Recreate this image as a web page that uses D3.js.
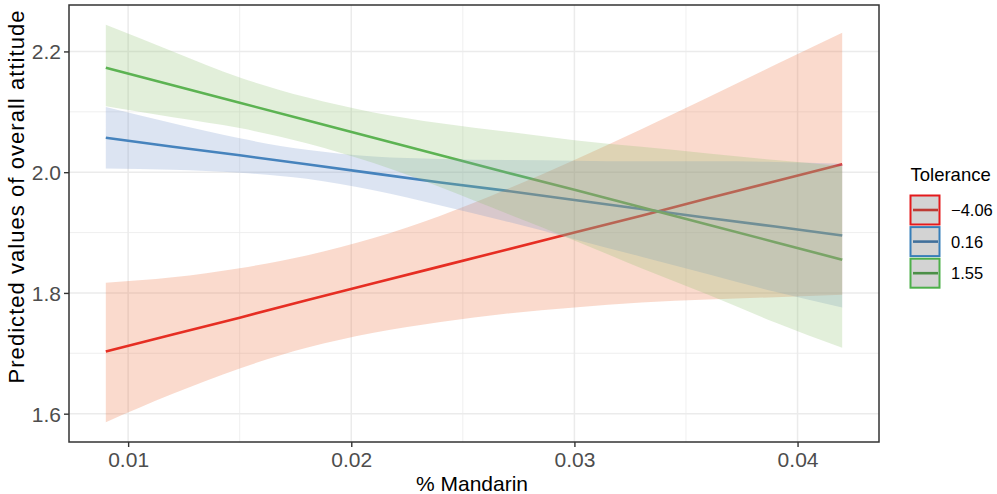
<!DOCTYPE html>
<html>
<head>
<meta charset="utf-8">
<script src="https://cdn.jsdelivr.net/npm/d3@7/dist/d3.min.js"></script>
<style>
    html, body { margin: 0; padding: 0; background: #fff; }
    svg text { font-family: "Liberation Sans", Arial, Helvetica, sans-serif; }
</style>
</head>
<body>
<svg class="main" width="997" height="494"></svg>
<script>
'use strict';

// % Mandarin values where the predictions were read
var mandarin = [0.009, 0.012, 0.015, 0.018, 0.021, 0.024, 0.027, 0.030, 0.033, 0.036, 0.039, 0.042];

var tolerance = ['\u22124.06', '0.16', '1.55'];

// Tolerance = -4.06
var fitNeg406  = [1.703, 1.731, 1.759, 1.788, 1.816, 1.844, 1.872, 1.900, 1.928, 1.957, 1.985, 2.013];
var loNeg406   = [1.586, 1.633, 1.675, 1.709, 1.734, 1.752, 1.766, 1.776, 1.784, 1.789, 1.793, 1.797];
var hiNeg406   = [1.817, 1.826, 1.841, 1.862, 1.891, 1.928, 1.972, 2.020, 2.071, 2.124, 2.178, 2.231];

// Tolerance = 0.16
var fit016 = [2.057, 2.042, 2.028, 2.013, 1.998, 1.983, 1.969, 1.954, 1.939, 1.924, 1.910, 1.895];
var lo016  = [2.006, 2.004, 1.999, 1.989, 1.970, 1.945, 1.918, 1.889, 1.860, 1.831, 1.802, 1.776];
var hi016  = [2.108, 2.081, 2.056, 2.037, 2.026, 2.022, 2.020, 2.019, 2.018, 2.018, 2.017, 2.014];

// Tolerance = 1.55
var fit155 = [2.173, 2.144, 2.115, 2.086, 2.057, 2.028, 1.999, 1.971, 1.942, 1.913, 1.884, 1.855];
var lo155  = [2.109, 2.091, 2.073, 2.048, 2.015, 1.975, 1.931, 1.887, 1.841, 1.797, 1.751, 1.709];
var hi155  = [2.244, 2.200, 2.157, 2.124, 2.099, 2.081, 2.067, 2.053, 2.042, 2.031, 2.020, 2.010];

var xTicks = [0.01, 0.02, 0.03, 0.04];
var xMinor = [0.015, 0.025, 0.035];
var yTicks = [1.6, 1.8, 2.0, 2.2];
var yMinor = [1.7, 1.9, 2.1];

var lineColors = ['#e41a1c', '#377eb8', '#4daf4a'];
var bandColors = ['#eb6b37', '#7393cb', '#8bbf6b'];
var keyLineColors = ['#bd3a33', '#41709b', '#4b8f47'];

var series = [
    {name: tolerance[0], fit: fitNeg406, lo: loNeg406, hi: hiNeg406},
    {name: tolerance[1], fit: fit016, lo: lo016, hi: hi016},
    {name: tolerance[2], fit: fit155, lo: lo155, hi: hi155}
];

var panel = {left: 69, right: 879, top: 5, bottom: 442};

function expand(ext) {
    var pad = (ext[1] - ext[0]) * 0.05;
    return [ext[0] - pad, ext[1] + pad];
}

var allY = [].concat(loNeg406, hiNeg406, lo016, hi016, lo155, hi155);

var x = d3.scaleLinear()
    .domain(expand(d3.extent(mandarin)))
    .range([panel.left, panel.right]);

var y = d3.scaleLinear()
    .domain(expand(d3.extent(allY)))
    .range([panel.bottom, panel.top]);

var svg = d3.select('svg.main');

// grid
var grid = svg.append('g').attr('class', 'grid');

grid.selectAll('.xminor')
    .data(xMinor)
    .enter()
    .append('line')
    .attr('x1', function (d) { return x(d); })
    .attr('x2', function (d) { return x(d); })
    .attr('y1', panel.top)
    .attr('y2', panel.bottom)
    .attr('stroke', '#ebebeb')
    .attr('stroke-width', 0.8);

grid.selectAll('.yminor')
    .data(yMinor)
    .enter()
    .append('line')
    .attr('y1', function (d) { return y(d); })
    .attr('y2', function (d) { return y(d); })
    .attr('x1', panel.left)
    .attr('x2', panel.right)
    .attr('stroke', '#ebebeb')
    .attr('stroke-width', 0.8);

grid.selectAll('.xmajor')
    .data(xTicks)
    .enter()
    .append('line')
    .attr('x1', function (d) { return x(d); })
    .attr('x2', function (d) { return x(d); })
    .attr('y1', panel.top)
    .attr('y2', panel.bottom)
    .attr('stroke', '#ebebeb')
    .attr('stroke-width', 1.5);

grid.selectAll('.ymajor')
    .data(yTicks)
    .enter()
    .append('line')
    .attr('y1', function (d) { return y(d); })
    .attr('y2', function (d) { return y(d); })
    .attr('x1', panel.left)
    .attr('x2', panel.right)
    .attr('stroke', '#ebebeb')
    .attr('stroke-width', 1.5);

// lines first, ribbons laid over them
var line = d3.line()
    .x(function (d) { return x(d[0]); })
    .y(function (d) { return y(d[1]); });

var area = d3.area()
    .curve(d3.curveMonotoneX)
    .x(function (d) { return x(d[0]); })
    .y0(function (d) { return y(d[1]); })
    .y1(function (d) { return y(d[2]); });

svg.append('g')
    .selectAll('path')
    .data(series)
    .enter()
    .append('path')
    .attr('d', function (s) {
        return line(mandarin.map(function (m, i) { return [m, s.fit[i]]; }));
    })
    .attr('fill', 'none')
    .attr('stroke', function (s, i) { return lineColors[i]; })
    .attr('stroke-width', 2.6);

svg.append('g')
    .selectAll('path')
    .data(series)
    .enter()
    .append('path')
    .attr('d', function (s) {
        return area(mandarin.map(function (m, i) { return [m, s.lo[i], s.hi[i]]; }));
    })
    .attr('fill', function (s, i) { return bandColors[i]; })
    .attr('fill-opacity', 0.25)
    .attr('stroke', 'none');

// panel border
svg.append('rect')
    .attr('x', panel.left)
    .attr('y', panel.top)
    .attr('width', panel.right - panel.left)
    .attr('height', panel.bottom - panel.top)
    .attr('fill', 'none')
    .attr('stroke', '#333333')
    .attr('stroke-width', 1.5);

// axes
var xAxis = svg.append('g')
    .attr('transform', 'translate(0,' + panel.bottom + ')')
    .call(d3.axisBottom(x).tickValues(xTicks).tickSize(5).tickPadding(6).tickFormat(d3.format('.2f')));

var yAxis = svg.append('g')
    .attr('transform', 'translate(' + panel.left + ',0)')
    .call(d3.axisLeft(y).tickValues(yTicks).tickSize(5).tickPadding(4).tickFormat(d3.format('.1f')));

[xAxis, yAxis].forEach(function (ax) {
    ax.select('.domain').remove();
    ax.selectAll('.tick line').attr('stroke', '#333333').attr('stroke-width', 1.4);
    ax.selectAll('.tick text')
        .attr('fill', '#4d4d4d')
        .style('font-size', '21px');
});

xAxis.selectAll('.tick text').attr('dy', null).attr('y', 25);
yAxis.selectAll('.tick text').attr('dy', '0.36em').attr('x', -8);

svg.append('text')
    .attr('x', (panel.left + panel.right) / 2 - 2)
    .attr('y', 491)
    .attr('text-anchor', 'middle')
    .style('font-size', '21px')
    .attr('fill', '#000')
    .text('% Mandarin');

svg.append('text')
    .attr('transform', 'translate(24,197) rotate(-90)')
    .attr('text-anchor', 'middle')
    .style('font-size', '22px')
    .attr('textLength', 373)
    .attr('lengthAdjust', 'spacing')
    .attr('fill', '#000')
    .text('Predicted values of overall attitude');

// legend
var legend = svg.append('g').attr('transform', 'translate(910,0)');

legend.append('text')
    .attr('x', 0.5)
    .attr('y', 180.5)
    .style('font-size', '18.5px')
    .attr('fill', '#000')
    .text('Tolerance');

var keys = legend.selectAll('.key')
    .data(series)
    .enter()
    .append('g')
    .attr('class', 'key')
    .attr('transform', function (d, i) {
        return 'translate(0,' + (195 + i * 31.6) + ')';
    });

keys.append('rect')
    .attr('x', 0.5)
    .attr('y', 0.5)
    .attr('width', 29)
    .attr('height', 29)
    .attr('fill', '#d3d3d3');

keys.append('line')
    .attr('x1', 3)
    .attr('x2', 28)
    .attr('y1', 15)
    .attr('y2', 15)
    .attr('stroke', function (d, i) { return keyLineColors[i]; })
    .attr('stroke-width', 2.6);

keys.append('rect')
    .attr('x', 0.5)
    .attr('y', 0.5)
    .attr('width', 29)
    .attr('height', 29)
    .attr('fill', 'none')
    .attr('stroke', function (d, i) { return lineColors[i]; })
    .attr('stroke-width', 2);

keys.append('text')
    .attr('x', 41)
    .attr('y', 15)
    .attr('dy', '0.36em')
    .style('font-size', '16.5px')
    .attr('fill', '#000')
    .text(function (d) { return d.name; });
</script>
</body>
</html>
